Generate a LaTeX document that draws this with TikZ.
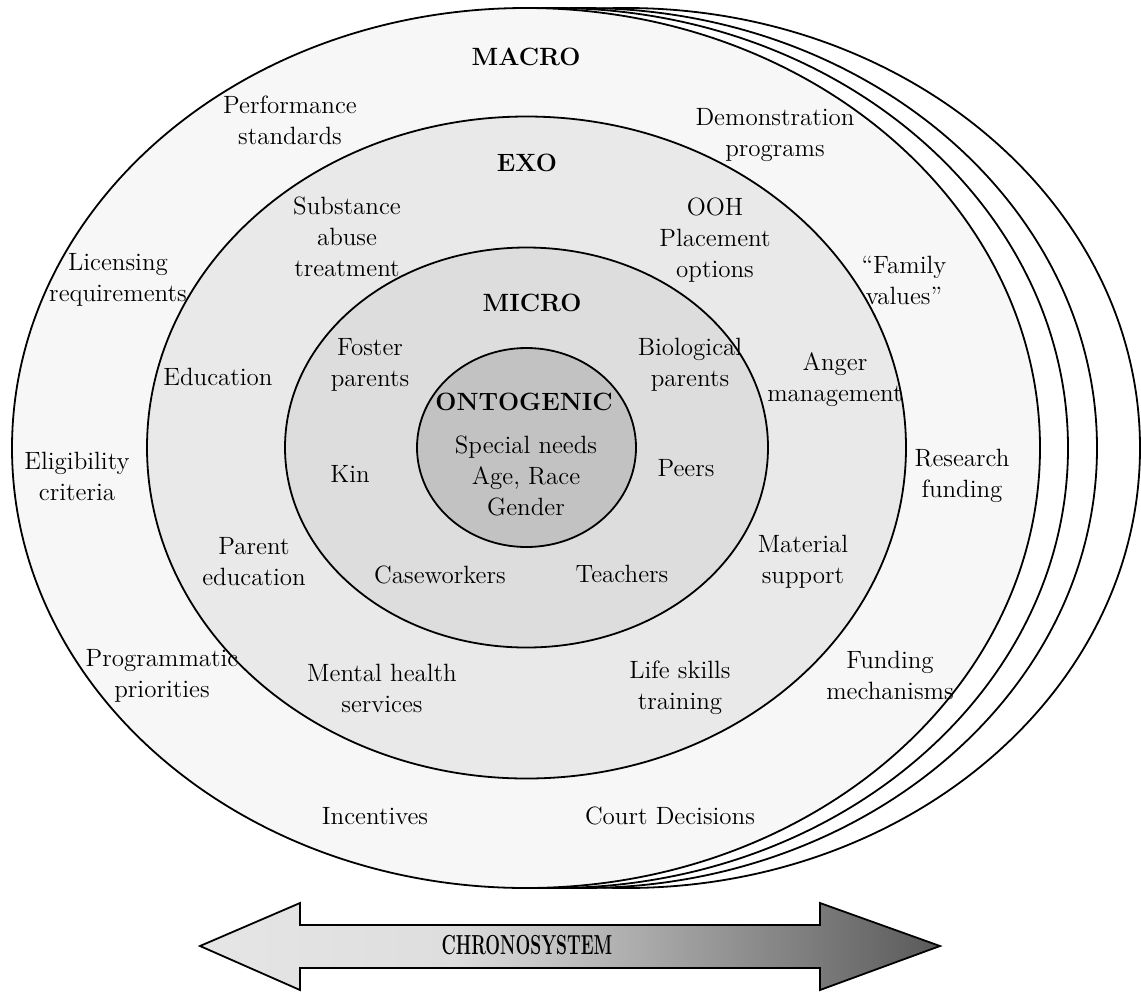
\documentclass[tikz,border=0pt]{standalone}
\usetikzlibrary{shapes.geometric}

\definecolor{macrogray}{HTML}{F7F7F7}
\definecolor{exogray}{HTML}{E9E9E9}
\definecolor{microgray}{HTML}{DDDDDD}
\definecolor{ontogray}{HTML}{C2C2C2}

\pgfdeclarehorizontalshading{chrono}{100bp}{color(0bp)=(black!10); color(25bp)=(black!10); color(42bp)=(black!13); color(75bp)=(black!65); color(100bp)=(black!65)}

\tikzset{
	ring/.style={ellipse, draw, line width=0.9pt, inner sep=0pt},
	lbl/.style={align=center, font=\fontsize{12.5}{15.5}\selectfont},
	hdr/.style={font=\fontsize{12.5}{15.5}\selectfont\bfseries}
}

\begin{document}
\begin{tikzpicture}[x=0.5pt, y=-0.5pt]
	\useasboundingbox (0,0) rectangle (1141,992);

	% chronosystem copies behind
	\node[ring, fill=white, minimum width=514pt, minimum height=440pt] (back3) at (626,448) {};
	\node[ring, fill=white, minimum width=514pt, minimum height=440pt] (back2) at (583,448) {};
	\node[ring, fill=white, minimum width=514pt, minimum height=440pt] (back1) at (554,448) {};

	% nested systems
	\node[ring, fill=macrogray, minimum width=514pt, minimum height=440pt] (macro) at (526,448) {};
	\node[ring, fill=exogray, minimum width=379.5pt, minimum height=331pt] (exo) at (526.5,447.5) {};
	\node[ring, fill=microgray, minimum width=241.5pt, minimum height=200pt] (micro) at (526.5,447.5) {};
	\node[ring, fill=ontogray, minimum width=109.5pt, minimum height=99.5pt] (onto) at (526.5,447.5) {};

	% macro
	\node[hdr] (macrotxt) at (526,57) {MACRO};
	\node[lbl] (perf) at (290,120) {Performance\\standards};
	\node[lbl] (demo) at (775,135) {Demonstration\\programs};
	\node[lbl] (lic) at (118,280) {Licensing\\requirements};
	\node[lbl] (famval) at (904,280) {``Family\\values''};
	\node[lbl] (elig) at (77,476) {Eligibility\\criteria};
	\node[lbl] (research) at (962,476) {Research\\funding};
	\node[lbl] (prog) at (162,676) {Programmatic\\priorities};
	\node[lbl] (fundmech) at (890,675) {Funding\\mechanisms};
	\node[lbl] (incent) at (375,816) {Incentives};
	\node[lbl] (court) at (670,816) {Court Decisions};

	% exo
	\node[hdr] (exotxt) at (527,163) {EXO};
	\node[lbl] (subst) at (347,237) {Substance\\abuse\\treatment};
	\node[lbl] (ooh) at (715,240) {OOH\\Placement\\options};
	\node[lbl] (educ) at (218,377) {Education};
	\node[lbl] (anger) at (835,380) {Anger\\management};
	\node[lbl] (parented) at (254,562) {Parent\\education};
	\node[lbl] (material) at (803,562) {Material\\support};
	\node[lbl] (mental) at (382,688) {Mental health\\services};
	\node[lbl] (life) at (680,688) {Life skills\\training};

	% micro
	\node[hdr] (microtxt) at (532,303) {MICRO};
	\node[lbl] (foster) at (370,365) {Foster\\parents};
	\node[lbl] (bio) at (690,365) {Biological\\parents};
	\node[lbl] (kin) at (350,474) {Kin};
	\node[lbl] (peers) at (686,468) {Peers};
	\node[lbl] (casew) at (440,575) {Caseworkers};
	\node[lbl] (teach) at (622,574) {Teachers};

	% ontogenic
	\node[hdr] (ontotxt) at (524,402) {ONTOGENIC};
	\node[lbl] (indiv) at (526,476) {Special needs\\Age, Race\\Gender};

	% time arrow
	\coordinate (tipl) at (200,946);
	\coordinate (tipr) at (940,946);
	\path[draw, line width=0.9pt, shading=chrono]
		(tipl) -- (300,903) -- (300,925) -- (820,925) -- (820,903)
		-- (tipr) -- (820,990) -- (820,968) -- (300,968) -- (300,990) -- cycle;
	\node[hdr] (chrono) at (527,945) {\scalebox{0.7}[1.1]{CHRONOSYSTEM}};
\end{tikzpicture}
\end{document}
